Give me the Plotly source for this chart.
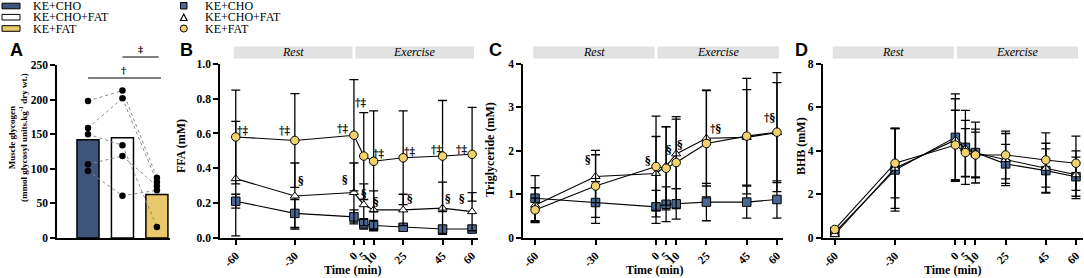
import plotly.graph_objects as go

W, H = 1084, 278

# ---------------- data ----------------
groups = ["KE+CHO", "KE+CHO+FAT", "KE+FAT"]

glyco_mean = [142, 145, 63]
glyco_cho = [198, 159, 150, 106.5, 97]
glyco_chofat = [213, 202, 134, 118.5, 61]
glyco_fat = [87, 81, 16, 75, 69]

time_min = [-60, -30, 0, 5, 10, 25, 45, 60]
time_labels = ["-60", "-30", "0", "5", "10", "25", "45", "60"]

ffa_cho = [0.21, 0.14, 0.12, 0.08, 0.07, 0.06, 0.05, 0.05]
ffa_cho_sd = [0.04, 0.08, 0.04, 0.03, 0.03, 0.02, 0.02, 0.02]
ffa_chofat = [0.34, 0.24, 0.26, 0.19, 0.16, 0.16, 0.17, 0.15]
ffa_chofat_sd = [0.33, 0.19, 0.17, 0.12, 0.11, 0.09, 0.15, 0.11]
ffa_fat = [0.58, 0.56, 0.59, 0.47, 0.44, 0.46, 0.47, 0.48]
ffa_fat_sd = [0.27, 0.27, 0.32, 0.25, 0.29, 0.27, 0.32, 0.27]

tg_cho = [0.91, 0.81, 0.71, 0.77, 0.78, 0.82, 0.82, 0.88]
tg_cho_sd = [0.52, 0.48, 0.38, 0.40, 0.35, 0.43, 0.37, 0.43]
tg_chofat = [0.75, 1.41, 1.48, 1.65, 1.93, 2.29, 2.31, 2.42]
tg_chofat_sd = [0.40, 0.60, 0.85, 0.90, 0.80, 1.10, 1.10, 1.15]
tg_fat = [0.64, 1.19, 1.64, 1.60, 1.73, 2.17, 2.34, 2.43]
tg_fat_sd = [0.27, 0.72, 1.16, 0.96, 1.06, 1.23, 1.33, 1.37]

bhb_cho = [0.25, 3.12, 4.62, 4.16, 3.92, 3.40, 3.09, 2.81]
bhb_cho_sd = [0.10, 1.90, 2.00, 1.70, 1.40, 0.90, 1.00, 0.90]
bhb_chofat = [0.15, 3.20, 4.50, 4.10, 3.90, 3.60, 3.20, 2.90]
bhb_chofat_sd = [0.10, 1.85, 1.90, 1.30, 1.10, 1.20, 1.15, 1.10]
bhb_fat = [0.38, 3.43, 4.27, 3.92, 3.81, 3.81, 3.58, 3.43]
bhb_fat_sd = [0.10, 1.60, 1.60, 1.10, 1.05, 1.10, 1.25, 1.25]

# significance labels (text only)
ffa_sig_fat = ["†‡"] * 8
ffa_sig_chofat = ["§"] * 7

# ---------------- styles ----------------
bar_colors = ["#3e5479", "#ffffff", "#e8c86a"]
mk_fill = ["#4a6894", "#ffffff", "#f1d36b"]
mk_symbol = ["square", "triangle-up", "circle"]
SERIF = "Liberation Serif"
SANS = "Liberation Sans"
SYM = "DejaVu Serif"


def fx(p):
    return p / W


def fy(p):
    return 1 - p / H


fig = go.Figure()

# ---------------- Panel A ----------------
fig.add_trace(go.Bar(
    x=[0, 1, 2], y=glyco_mean, width=0.64,
    marker=dict(color=bar_colors, line=dict(color="black", width=1.5)),
    xaxis="x", yaxis="y", showlegend=False))

for a, b in zip(glyco_cho, glyco_chofat):
    fig.add_trace(go.Scatter(x=[0, 1], y=[a, b], mode="lines",
                             line=dict(color="#8a8a8a", width=1, dash="dot"),
                             xaxis="x", yaxis="y", showlegend=False))
for a, b in zip(glyco_chofat, glyco_fat):
    fig.add_trace(go.Scatter(x=[1, 2], y=[a, b], mode="lines",
                             line=dict(color="#8a8a8a", width=1, dash="dot"),
                             xaxis="x", yaxis="y", showlegend=False))
for i, vals in enumerate([glyco_cho, glyco_chofat, glyco_fat]):
    fig.add_trace(go.Scatter(x=[i] * len(vals), y=vals, mode="markers",
                             marker=dict(color="black", size=6.5),
                             xaxis="x", yaxis="y", showlegend=False))

# ---------------- Panels B, C, D ----------------
panels = [
    ("x2", "y2", [ffa_cho, ffa_chofat, ffa_fat], [ffa_cho_sd, ffa_chofat_sd, ffa_fat_sd]),
    ("x3", "y3", [tg_cho, tg_chofat, tg_fat], [tg_cho_sd, tg_chofat_sd, tg_fat_sd]),
    ("x4", "y4", [bhb_cho, bhb_chofat, bhb_fat], [bhb_cho_sd, bhb_chofat_sd, bhb_fat_sd]),
]
for xa, ya, series, sds in panels:
    for k in range(3):
        fig.add_trace(go.Scatter(
            x=time_min, y=series[k], mode="lines+markers",
            error_y=dict(type="data", array=sds[k], visible=True,
                         color="black", thickness=1.3, width=4.5),
            line=dict(color="black", width=1.1),
            marker=dict(symbol=mk_symbol[k], color=mk_fill[k], size=8.5 if k != 1 else 8,
                        line=dict(color="black", width=1)),
            xaxis=xa, yaxis=ya, showlegend=False, cliponaxis=False))

# ---------------- axes ----------------
axis_common = dict(showline=True, linecolor="black", linewidth=1.6, showgrid=False,
                   zeroline=False, ticks="outside", ticklen=5, tickwidth=1.5,
                   tickcolor="black", automargin=False,
                   tickfont=dict(family=SERIF, size=11.5, color="black", weight="bold"))

ydom = [fy(237.7), fy(64)]
layout = dict(
    width=W, height=H, margin=dict(l=0, r=0, t=0, b=0, autoexpand=False),
    paper_bgcolor="white", plot_bgcolor="white", showlegend=False,
    xaxis=dict(domain=[fx(57), fx(170)], range=[-0.9, 2.38], showline=True,
               linecolor="black", linewidth=1.6, showgrid=False, zeroline=False,
               showticklabels=False, ticks="", anchor="y", automargin=False),
    yaxis=dict(domain=[fy(238), fy(65)], range=[0, 250], tickvals=[0, 50, 100, 150, 200, 250],
               anchor="x", **axis_common),
)
xdoms = {"x2": [220, 478], "x3": [523, 783], "x4": [822.7, 1083]}
xranges = {"x2": [-68, 63], "x3": [-66, 63], "x4": [-66, 63.5]}
yranges = {"y2": ([0, 1], [0, 0.2, 0.4, 0.6, 0.8, 1.0], ".1f"),
           "y3": ([0, 4], [0, 1, 2, 3, 4], "d"),
           "y4": ([0, 8], [0, 2, 4, 6, 8], "d")}
for n in ["2", "3", "4"]:
    layout["xaxis" + n] = dict(domain=[fx(xdoms["x" + n][0]), fx(xdoms["x" + n][1])],
                               range=xranges["x" + n], tickvals=time_min, ticktext=time_labels,
                               tickangle=-45, anchor="y" + n, **axis_common)
    r, tv, tf = yranges["y" + n]
    layout["yaxis" + n] = dict(domain=ydom, range=r, tickvals=tv, tickformat=tf,
                               anchor="x" + n, **axis_common)
fig.update_layout(**layout)

# ---------------- shapes & annotations ----------------
shapes = []
ann = []


def text_at(x, y, t, size, family=SERIF, xref="paper", yref="paper", xanchor="center", angle=0):
    ann.append(dict(x=x, y=y, xref=xref, yref=yref, text=t, showarrow=False,
                    xanchor=xanchor, yanchor="middle", textangle=angle,
                    font=dict(family=family, size=size, color="black")))


# legends
for i, g in enumerate(groups):
    yc = [6, 17.2, 28.5][i]
    shapes.append(dict(type="rect", xref="paper", yref="paper",
                       x0=fx(2), x1=fx(20), y0=fy(yc + 2.8), y1=fy(yc - 2.8),
                       fillcolor=bar_colors[i], line=dict(color="black", width=1)))
    text_at(fx(31), fy(yc), g, 12, xanchor="left")
    text_at(fx(203), fy(yc), g, 12, xanchor="left")
# legend markers
shapes.append(dict(type="rect", xref="paper", yref="paper", x0=fx(180.5), x1=fx(187),
                   y0=fy(9), y1=fy(2.5), fillcolor=mk_fill[0], line=dict(color="black", width=1)))
shapes.append(dict(type="path", xref="paper", yref="paper",
                   path="M %f %f L %f %f L %f %f Z" % (fx(180.5), fy(20.5), fx(187), fy(20.5), fx(183.75), fy(14)),
                   fillcolor="white", line=dict(color="black", width=1.2)))
shapes.append(dict(type="circle", xref="paper", yref="paper", x0=fx(180.3), x1=fx(187.3),
                   y0=fy(32), y1=fy(25), fillcolor=mk_fill[2], line=dict(color="black", width=1)))

# panel letters
for letter, px in [("A", 8), ("B", 178), ("C", 487), ("D", 793)]:
    text_at(fx(px), fy(50), "<b>%s</b>" % letter, 18, family=SANS, xanchor="left")

# Rest / Exercise bands
for n in ["2", "3", "4"]:
    for x0, x1, lab in [(-61, -0.7, "Rest"), (0.7, 61, "Exercise")]:
        shapes.append(dict(type="rect", xref="x" + n, yref="paper", x0=x0, x1=x1,
                           y0=fy(58.5), y1=fy(46.5), fillcolor="#e2e2e2", line=dict(width=0)))
        text_at((x0 + x1) / 2, fy(52.5), "<i>%s</i>" % lab, 12, xref="x" + n)

# axis titles
text_at(fx(18), fy(138), "<b>Muscle glycogen<br>(mmol glycosyl units.kg<sup>-1</sup> dry wt.)</b>",
        9, angle=-90)
for px, pyc, t in [(181, 146, "FFA (mM)"), (490, 150, "Triglyceride (mM)"), (801, 146, "BHB (mM)")]:
    text_at(fx(px), fy(pyc), "<b>%s</b>" % t, 12, angle=-90)
for px in [352, 654, 952]:
    text_at(fx(px), fy(270), "<b>Time (min)</b>", 12)

# significance in panel A
shapes.append(dict(type="line", xref="x", yref="paper", x0=0, x1=2.12, y0=fy(78), y1=fy(78),
                   line=dict(color="black", width=1.2)))
shapes.append(dict(type="line", xref="x", yref="paper", x0=1, x1=2.05, y0=fy(57), y1=fy(57),
                   line=dict(color="black", width=1.2)))
text_at(1.03, fy(70), "<b>†</b>", 10, family=SYM, xref="x")
text_at(1.52, fy(49), "<b>‡</b>", 10, family=SYM, xref="x")

# significance in panel B
ffa_fat_pos = [(-56.5, 0.62), (-35.5, 0.62), (-6.0, 0.63), (3.4, 0.78),
               (12.5, 0.49), (28, 0.50), (41.7, 0.51), (54.6, 0.51)]
ffa_chofat_pos = [(-27.1, 0.33), (-4.4, 0.34), (5.0, 0.255),
                  (11.0, 0.21), (28.3, 0.23), (47.8, 0.23), (55.1, 0.23)]
for t, p in zip(ffa_sig_fat, ffa_fat_pos):
    text_at(p[0], p[1], "<b>%s</b>" % t, 10.5, family=SYM, xref="x2", yref="y2")
for t, p in zip(ffa_sig_chofat, ffa_chofat_pos):
    text_at(p[0], p[1], "<b>%s</b>" % t, 10.5, family=SYM, xref="x2", yref="y2")

# significance in panel C
tg_sig = [("§", -34, 1.81), ("§", -4.2, 1.79), ("§", 6.4, 2.04), ("§", 11.9, 2.16),
          ("†§", 29.3, 2.53), ("†§", 56.5, 2.77)]
for t, x, y in tg_sig:
    text_at(x, y, "<b>%s</b>" % t, 10.5, family=SYM, xref="x3", yref="y3")

fig.update_layout(shapes=shapes, annotations=ann)
fig.write_html("out.html", config={"displayModeBar": False},
               post_script="document.body.style.margin='0';")
